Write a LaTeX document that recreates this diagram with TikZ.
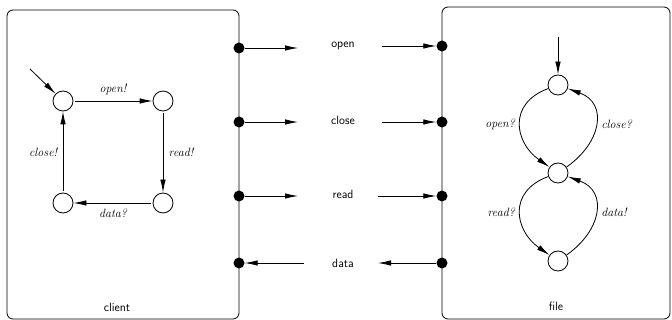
\documentclass[tikz,border=0pt]{standalone}
\usepackage{amsmath,amssymb}
\usepackage{tikz}
\usepackage{xcolor}
\usetikzlibrary{arrows.meta}

\begin{document}
\begin{tikzpicture}[x=1pt,y=-1pt,>={Latex[length=13pt,width=5.5pt]},
    state/.style={draw,circle,minimum size=20pt,inner sep=0pt,line width=0.8pt},
    port/.style={fill,circle,minimum size=11pt,inner sep=0pt},
    trans/.style={->,line width=0.8pt},
    act/.style={font=\fontsize{12}{14}\selectfont\itshape},
    sig/.style={font=\fontsize{12}{14}\selectfont\sffamily}]
  \useasboundingbox (0,0) rectangle (672,320);
  \draw[rounded corners=6pt,line width=0.8pt] (7,10) rectangle (239,319);
  \draw[rounded corners=6pt,line width=0.8pt] (442,7) rectangle (670,319);
  \node[sig] (clientname) at (117,307) {client};
  \node[sig] (filename) at (556,306) {file};
  % client automaton
  \node[state] (c1) at (63,101) {};  \node[state] (c2) at (163,101) {};
  \node[state] (c3) at (163,203) {}; \node[state] (c4) at (63,203) {};
  \coordinate (cinit) at (30,69);
  \draw[trans] (cinit) -- (c1);
  \draw[trans,shorten <=2pt] (c1) -- node[act,above=2pt] {open!} (c2);
  \draw[trans,shorten <=2pt] (c2) -- node[act,right=2pt] {read!} (c3);
  \draw[trans,shorten <=2pt] (c3) -- node[act,below=2pt] {data?} (c4);
  \draw[trans,shorten <=2pt] (c4) -- node[act,left=2pt] {close!} (c1);
  % ports and signals
  \node[port] (cp1) at (239,48) {};  \node[port] (fp1) at (442,46) {};
  \node[port] (cp2) at (239,122) {}; \node[port] (fp2) at (442,122) {};
  \node[port] (cp3) at (239,196) {}; \node[port] (fp3) at (442,196) {};
  \node[port] (cp4) at (239,263) {}; \node[port] (fp4) at (442,263) {};
  \node[sig] (sopen) at (343,46) {open};   \node[sig] (sclose) at (343,120) {close};
  \node[sig] (sread) at (343,194) {read};  \node[sig] (sdata) at (343,263) {data};
  \coordinate (o1) at (298,48);  \coordinate (o2) at (382,46);
  \coordinate (k1) at (298,122); \coordinate (k2) at (382,122);
  \coordinate (r1) at (298,196); \coordinate (r2) at (378,196);
  \coordinate (d1) at (304,263); \coordinate (d2) at (378,263);
  \draw[trans] (cp1) -- (o1);  \draw[trans] (o2) -- (fp1);
  \draw[trans] (cp2) -- (k1);  \draw[trans] (k2) -- (fp2);
  \draw[trans] (cp3) -- (r1);  \draw[trans] (r2) -- (fp3);
  \draw[trans] (d1) -- (cp4);  \draw[trans] (fp4) -- (d2);
  % file automaton
  \node[state] (f1) at (558,85) {};  \node[state] (f2) at (558,173) {};
  \node[state] (f3) at (558,261) {};
  \coordinate (finit) at (558,37);
  \draw[trans] (finit) -- (f1);
  \draw[trans] (f1) to[out=200,in=145,looseness=1.4] node[act,left=2pt] {open?} (f2);
  \draw[trans] (f2) to[out=35,in=-20,looseness=1.4] node[act,right=2pt] {close?} (f1);
  \draw[trans] (f2) to[out=200,in=145,looseness=1.4] node[act,left=2pt] {read?} (f3);
  \draw[trans] (f3) to[out=35,in=-20,looseness=1.4] node[act,right=2pt] {data!} (f2);
\end{tikzpicture}
\end{document}
